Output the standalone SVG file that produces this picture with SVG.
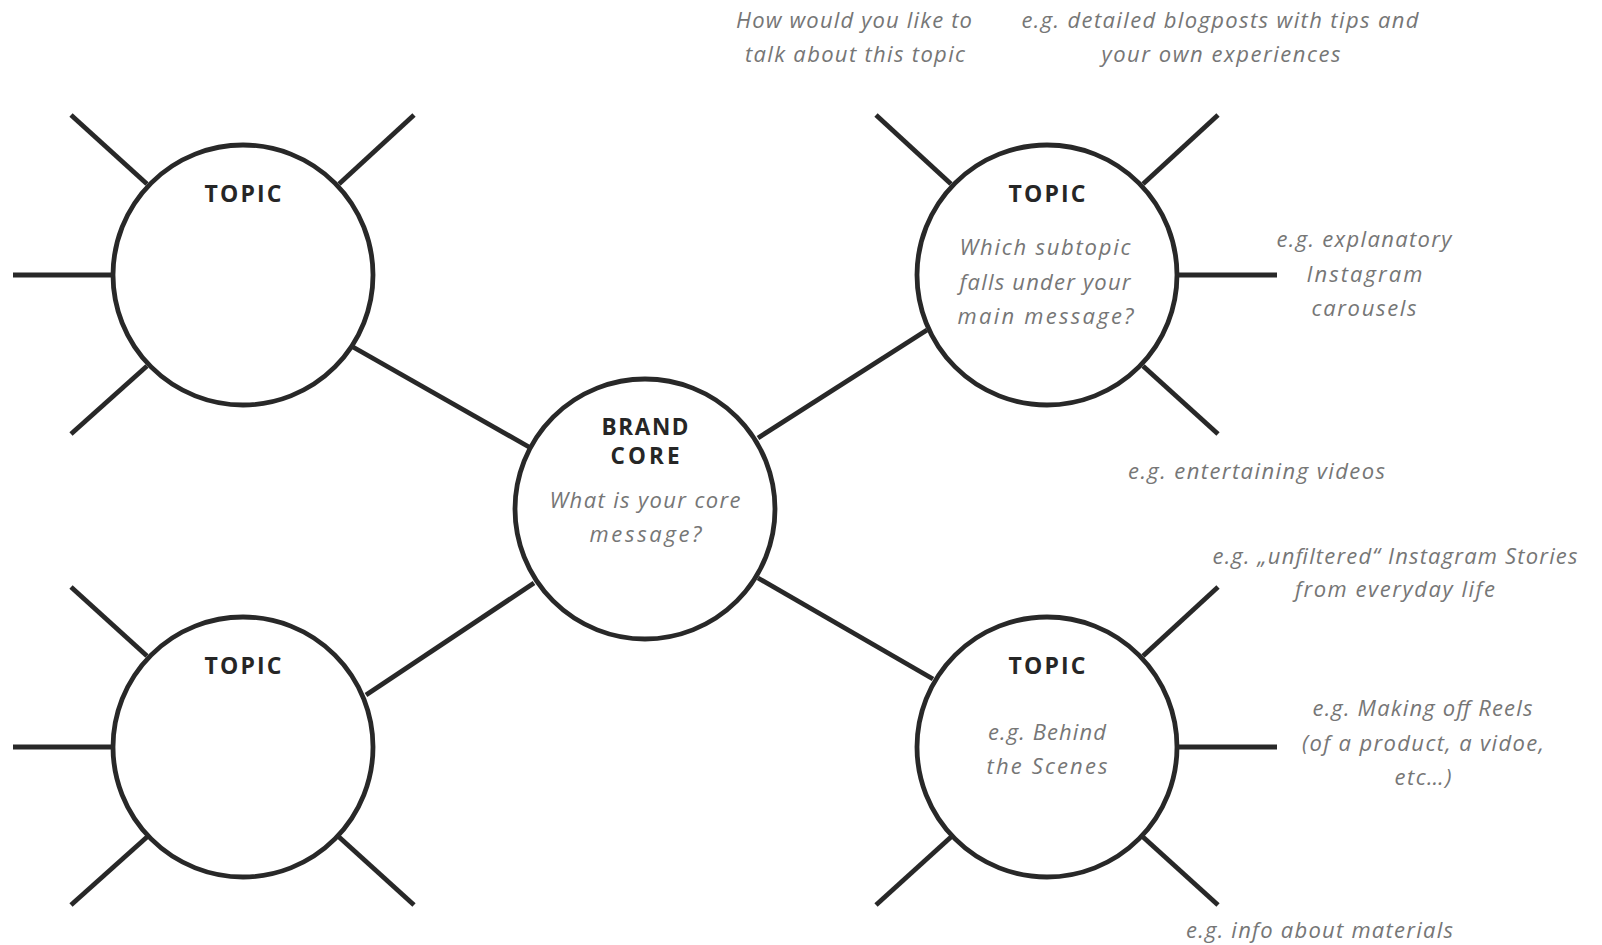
<svg xmlns="http://www.w3.org/2000/svg" width="1602" height="945" viewBox="0 0 1602 945">
  <style>
    .ring { fill: #ffffff; stroke: #282828; stroke-width: 4.8; }
    .ln { stroke: #282828; stroke-width: 4.8; stroke-linecap: butt; fill: none; }
    .hd { font-family: "Open Sans", "Liberation Sans", sans-serif; font-weight: 700; font-size: 23px; fill: #262626; text-anchor: middle; }
    .it { font-family: "Open Sans", "Liberation Sans", sans-serif; font-style: italic; font-size: 22px; fill: #767676; text-anchor: middle; }
  </style>
  <rect width="1602" height="945" fill="#ffffff"/>

  <g id="connectors">
    <line class="ln" x1="353" y1="347" x2="529" y2="447"/>
    <line class="ln" x1="758" y1="438" x2="927" y2="330"/>
    <line class="ln" x1="534" y1="583" x2="366" y2="695"/>
    <line class="ln" x1="758" y1="578" x2="933" y2="679"/>
  </g>

  <g id="topic-top-left">
    <line class="ln" x1="71" y1="115" x2="147" y2="184"/>
    <line class="ln" x1="414" y1="115" x2="339" y2="184"/>
    <line class="ln" x1="13" y1="275" x2="113" y2="275"/>
    <line class="ln" x1="147" y1="366" x2="71" y2="434"/>
    <circle class="ring" cx="243" cy="275" r="130"/>
    <text class="hd" x="243" y="202" textLength="77" lengthAdjust="spacing">TOPIC</text>
  </g>

  <g id="topic-top-right">
    <line class="ln" x1="876" y1="115" x2="951" y2="184"/>
    <line class="ln" x1="1218" y1="115" x2="1143" y2="184"/>
    <line class="ln" x1="1177" y1="275" x2="1277" y2="275"/>
    <line class="ln" x1="1143" y1="366" x2="1218" y2="434"/>
    <circle class="ring" cx="1047" cy="275" r="130"/>
    <text class="hd" x="1047" y="202" textLength="77" lengthAdjust="spacing">TOPIC</text>
    <text class="it" x="1045" y="255" textLength="171" lengthAdjust="spacing">Which subtopic</text>
    <text class="it" x="1045" y="289.5" textLength="171" lengthAdjust="spacing">falls under your</text>
    <text class="it" x="1045.5" y="324" textLength="176" lengthAdjust="spacing">main message?</text>
  </g>

  <g id="brand-core">
    <circle class="ring" cx="645" cy="509" r="130"/>
    <text class="hd" style="font-size:22.5px" x="645" y="435" textLength="87" lengthAdjust="spacing">BRAND</text>
    <text class="hd" style="font-size:22.5px" x="645" y="464" textLength="69" lengthAdjust="spacing">CORE</text>
    <text class="it" x="645" y="507.5" textLength="191" lengthAdjust="spacing">What is your core</text>
    <text class="it" x="645.5" y="541.5" textLength="112" lengthAdjust="spacing">message?</text>
  </g>

  <g id="topic-bottom-left">
    <line class="ln" x1="71" y1="587" x2="147" y2="656"/>
    <line class="ln" x1="13" y1="747" x2="113" y2="747"/>
    <line class="ln" x1="147" y1="837" x2="71" y2="905"/>
    <line class="ln" x1="339" y1="837" x2="414" y2="905"/>
    <circle class="ring" cx="243" cy="747" r="130"/>
    <text class="hd" x="243" y="674" textLength="77" lengthAdjust="spacing">TOPIC</text>
  </g>

  <g id="topic-bottom-right">
    <line class="ln" x1="1218" y1="587" x2="1143" y2="656"/>
    <line class="ln" x1="1177" y1="747" x2="1277" y2="747"/>
    <line class="ln" x1="951" y1="837" x2="876" y2="905"/>
    <line class="ln" x1="1143" y1="837" x2="1218" y2="905"/>
    <circle class="ring" cx="1047" cy="747" r="130"/>
    <text class="hd" x="1047" y="674" textLength="77" lengthAdjust="spacing">TOPIC</text>
    <text class="it" x="1047" y="740" textLength="118" lengthAdjust="spacing">e.g. Behind</text>
    <text class="it" x="1047" y="774" textLength="121" lengthAdjust="spacing">the Scenes</text>
  </g>

  <g id="annotations">
    <text class="it" x="854" y="27.5" textLength="236" lengthAdjust="spacing">How would you like to</text>
    <text class="it" x="855" y="61.5" textLength="220" lengthAdjust="spacing">talk about this topic</text>
    <text class="it" x="1220" y="27.5" textLength="397" lengthAdjust="spacing">e.g. detailed blogposts with tips and</text>
    <text class="it" x="1221" y="61.5" textLength="239" lengthAdjust="spacing">your own experiences</text>
    <text class="it" x="1364" y="247" textLength="175" lengthAdjust="spacing">e.g. explanatory</text>
    <text class="it" x="1364.5" y="281.5" textLength="116" lengthAdjust="spacing">Instagram</text>
    <text class="it" x="1364" y="315.5" textLength="105" lengthAdjust="spacing">carousels</text>
    <text class="it" x="1256.5" y="478.5" textLength="257" lengthAdjust="spacing">e.g. entertaining videos</text>
    <text class="it" x="1395" y="563.5" textLength="365" lengthAdjust="spacing">e.g. „unfiltered“ Instagram Stories</text>
    <text class="it" x="1395" y="596.5" textLength="200" lengthAdjust="spacing">from everyday life</text>
    <text class="it" x="1422.5" y="716" textLength="220" lengthAdjust="spacing">e.g. Making off Reels</text>
    <text class="it" x="1423" y="750.5" textLength="242" lengthAdjust="spacing">(of a product, a vidoe,</text>
    <text class="it" x="1423" y="784.5" textLength="57" lengthAdjust="spacing">etc…)</text>
    <text class="it" x="1319.5" y="938" textLength="267" lengthAdjust="spacing">e.g. info about materials</text>
  </g>
</svg>
